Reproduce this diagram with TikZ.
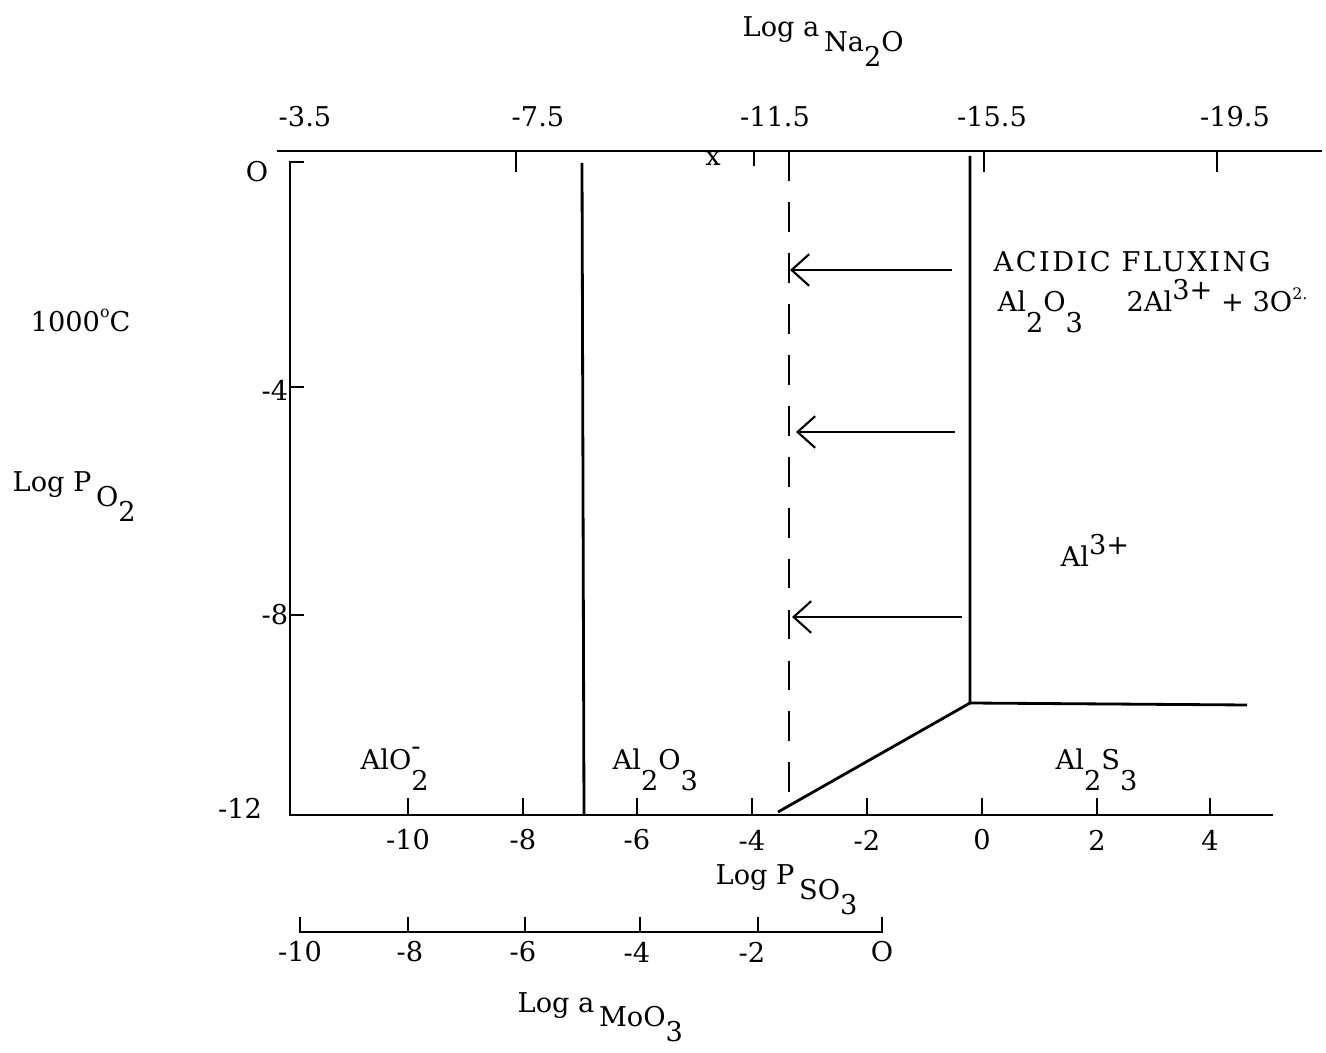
\documentclass[tikz,border=0pt]{standalone}
\usepackage{fontspec}
\setmainfont{DejaVu Serif}
\usetikzlibrary{arrows.meta}
\newcommand{\lowr}[1]{\raisebox{-0.55em}{#1}}
\newcommand{\dnsub}[1]{\raisebox{-0.75em}{#1}}
\newcommand{\highr}[1]{\raisebox{0.45em}{#1}}
\tikzset{every picture/.append style={thick}}

\begin{document}
\begin{tikzpicture}[x=0.02cm, y=-0.02cm, font=\fontsize{15.5}{19}\selectfont,
    axisline/.style={line width=1.6pt},
    phaseline/.style={line width=1.6pt},
    fluxarrow/.style={line width=1.2pt, -{Straight Barb[length=10pt, width=18pt]}},
    lbl/.style={anchor=base west, inner sep=0pt}]
    \useasboundingbox (0,0) rectangle (1326,1053);

    % Top axis (Log a Na2O)
    \draw[axisline] (277,151) -- (1322,151);
    \foreach \x in {516,984,1217} {
        \draw[axisline] (\x,151) -- (\x,172);
    }
    \draw[axisline] (754,151) -- (754,166);
    \foreach \x/\t in {305/-3.5, 538/-7.5, 775/-11.5, 992/-15.5, 1235/-19.5} {
        \node at (\x,117) {\t};
    }
    \node (xmark) at (713,158) {x};
    \node[lbl] (natitle) at (742,37) {Log a\,\lowr{Na\lowr{2}O}};

    % Left axis (Log P O2)
    \draw[axisline] (304,162) -- (290,162) -- (290,816);
    \foreach \y in {387,615} {
        \draw[axisline] (290,\y) -- (304,\y);
    }
    \node at (257,172) {O};
    \node at (275,390) {-4};
    \node at (275,615) {-8};
    \node at (240,808) {-12};
    \node[lbl] (temp) at (30,332) {1000\raisebox{0.55em}{\small o}C};
    \node[lbl] (potitle) at (12,492) {Log P\,\lowr{O\lowr{2}}};

    % Bottom axis (Log P SO3)
    \draw[axisline] (290,815) -- (1273,815);
    \foreach \x/\t in {408/-10, 523/-8, 637/-6, 752/-4, 867/-2, 982/0, 1097/2, 1210/4} {
        \draw[axisline] (\x,815) -- (\x,798);
        \node at (\x,840) {\t};
    }
    \node[lbl] (sotitle) at (715,885) {Log P\,\lowr{SO\lowr{3}}};

    % Second bottom axis (Log a MoO3)
    \draw[axisline] (300,917) -- (300,932) -- (882,932) -- (882,917);
    \foreach \x in {408,525,640,758} {
        \draw[axisline] (\x,932) -- (\x,917);
    }
    \foreach \x/\t in {300/-10, 410/-8, 523/-6, 637/-4, 752/-2, 882/O} {
        \node at (\x,952) {\t};
    }
    \node[lbl] (motitle) at (517,1012) {Log a\,\lowr{MoO\lowr{3}}};

    % Phase boundaries
    \draw[phaseline] (582,163) -- (584,815);
    \draw[phaseline] (970,156) -- (970,703) -- (1247,705);
    \draw[phaseline] (970,703) -- (778,812);
    \draw[line width=1.6pt, dash pattern=on 17pt off 12pt] (789,151) -- (789,812);

    % Acidic fluxing arrows
    \coordinate (a1s) at (952,270); \coordinate (a1e) at (790,270);
    \coordinate (a2s) at (955,432); \coordinate (a2e) at (796,432);
    \coordinate (a3s) at (962,617); \coordinate (a3e) at (792,617);
    \draw[fluxarrow] (a1s) -- (a1e);
    \draw[fluxarrow] (a2s) -- (a2e);
    \draw[fluxarrow] (a3s) -- (a3e);

    % Region labels
    \node[lbl] (flux) at (993,272) {\addfontfeature{LetterSpace=9}ACIDIC FLUXING};
    \node[lbl] (fluxeq) at (997,312) {Al\dnsub{2}O\dnsub{3}\hspace{1.6em}2Al\highr{3+} + 3O\highr{\small 2.}};
    \node[lbl] (alion) at (1060,567) {Al\highr{3+}};
    \node[lbl] (alo) at (360,770) {AlO\rlap{\raisebox{0.55em}{-}}\dnsub{2}};
    \node[lbl] (alox) at (612,770) {Al\dnsub{2}O\dnsub{3}};
    \node[lbl] (als) at (1055,770) {Al\dnsub{2}S\dnsub{3}};
\end{tikzpicture}
\end{document}
